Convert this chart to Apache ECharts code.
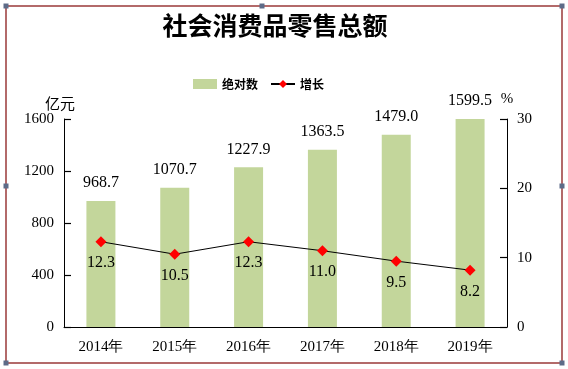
<!DOCTYPE html>
<html><head><meta charset="utf-8">
<script src="https://cdn.jsdelivr.net/npm/echarts@6/dist/echarts.min.js"></script>
<style>html,body{margin:0;padding:0;background:#fff}#c{width:568px;height:369px}</style>
</head><body><div id="c"></div>
<script>
const categories = ['2014年','2015年','2016年','2017年','2018年','2019年'];
const totalValues = [968.7, 1070.7, 1227.9, 1363.5, 1479.0, 1599.5];
const growthValues = [12.3, 10.5, 12.3, 11.0, 9.5, 8.2];
const leftTicks = {min: 0, max: 1600, interval: 400};
const rightTicks = {min: 0, max: 30, interval: 10};

const serif = '"Liberation Serif","Times New Roman",serif';
const cjk = '"Noto Sans CJK SC",sans-serif';
const chart = echarts.init(document.getElementById('c'), null, {renderer:'canvas'});
const handle = (x,y)=>({type:'rect',shape:{x:x-2.5,y:y-2.5,width:5,height:5},style:{fill:'#5d6b88'},z:10});
chart.setOption({
  animation:false,
  title:{text:'社会消费品零售总额',left:270,textAlign:'center',top:8,
    textStyle:{fontFamily:cjk,fontWeight:'bold',fontSize:25,color:'#000'}},
  legend:{left:188,top:73,itemWidth:24,itemHeight:10,itemGap:12,
    textStyle:{fontFamily:cjk,fontWeight:'bold',fontSize:12,color:'#000'},
    data:[{name:'绝对数',icon:'rect'},{name:'增长'}]},
  grid:{left:64,right:61,top:119,bottom:42},
  xAxis:{type:'category',data:categories,
    axisLine:{lineStyle:{color:'#000',width:1}},axisTick:{show:false},
    axisLabel:{fontFamily:serif,fontSize:15,color:'#000',margin:13}},
  yAxis:[
    {type:'value',position:'left',min:leftTicks.min,max:leftTicks.max,interval:leftTicks.interval,
     name:'亿元',nameLocation:'end',nameGap:8,nameTextStyle:{fontFamily:cjk,fontSize:15,color:'#000',align:'center',padding:[0,0,0,-8]},
     splitLine:{show:false},axisLine:{show:true,onZero:false,lineStyle:{color:'#000'}},
     axisTick:{show:true,inside:true,length:7,lineStyle:{color:'#000',width:1.2}},
     axisLabel:{fontFamily:serif,fontSize:15,color:'#000',margin:10,formatter:v=>String(v)}},
    {type:'value',position:'right',min:rightTicks.min,max:rightTicks.max,interval:rightTicks.interval,
     name:'%',nameLocation:'end',nameGap:12,nameTextStyle:{fontFamily:serif,fontSize:15,color:'#000',padding:[0,0,0,0]},
     splitLine:{show:false},axisLine:{show:true,onZero:false,lineStyle:{color:'#000'}},
     axisTick:{show:true,inside:true,length:7,lineStyle:{color:'#000',width:1.2}},
     axisLabel:{fontFamily:serif,fontSize:15,color:'#000',margin:10,formatter:v=>String(v)}}
  ],
  series:[
    {name:'绝对数',type:'bar',data:totalValues,barWidth:29,
     itemStyle:{color:'#c3d69b'},
     label:{show:true,position:'top',distance:10,fontFamily:serif,fontSize:16,color:'#000',
       formatter:p=>p.value.toFixed(1)}},
    {name:'增长',type:'line',yAxisIndex:1,data:growthValues,
     lineStyle:{color:'#000',width:1},itemStyle:{color:'#ff0000'},
     symbol:'diamond',symbolSize:11,
     label:{show:true,position:'bottom',distance:8,fontFamily:serif,fontSize:16,color:'#000',
       formatter:p=>p.value.toFixed(1)}}
  ],
  graphic:[
    {type:'rect',shape:{x:6,y:6,width:556,height:357},style:{fill:'none',stroke:'#b36a6a',lineWidth:2},z:9},
    handle(6,6),handle(262,6),handle(562,6),handle(6,186),handle(562,186),handle(6,363),handle(562,363)
  ]
});
</script></body></html>
